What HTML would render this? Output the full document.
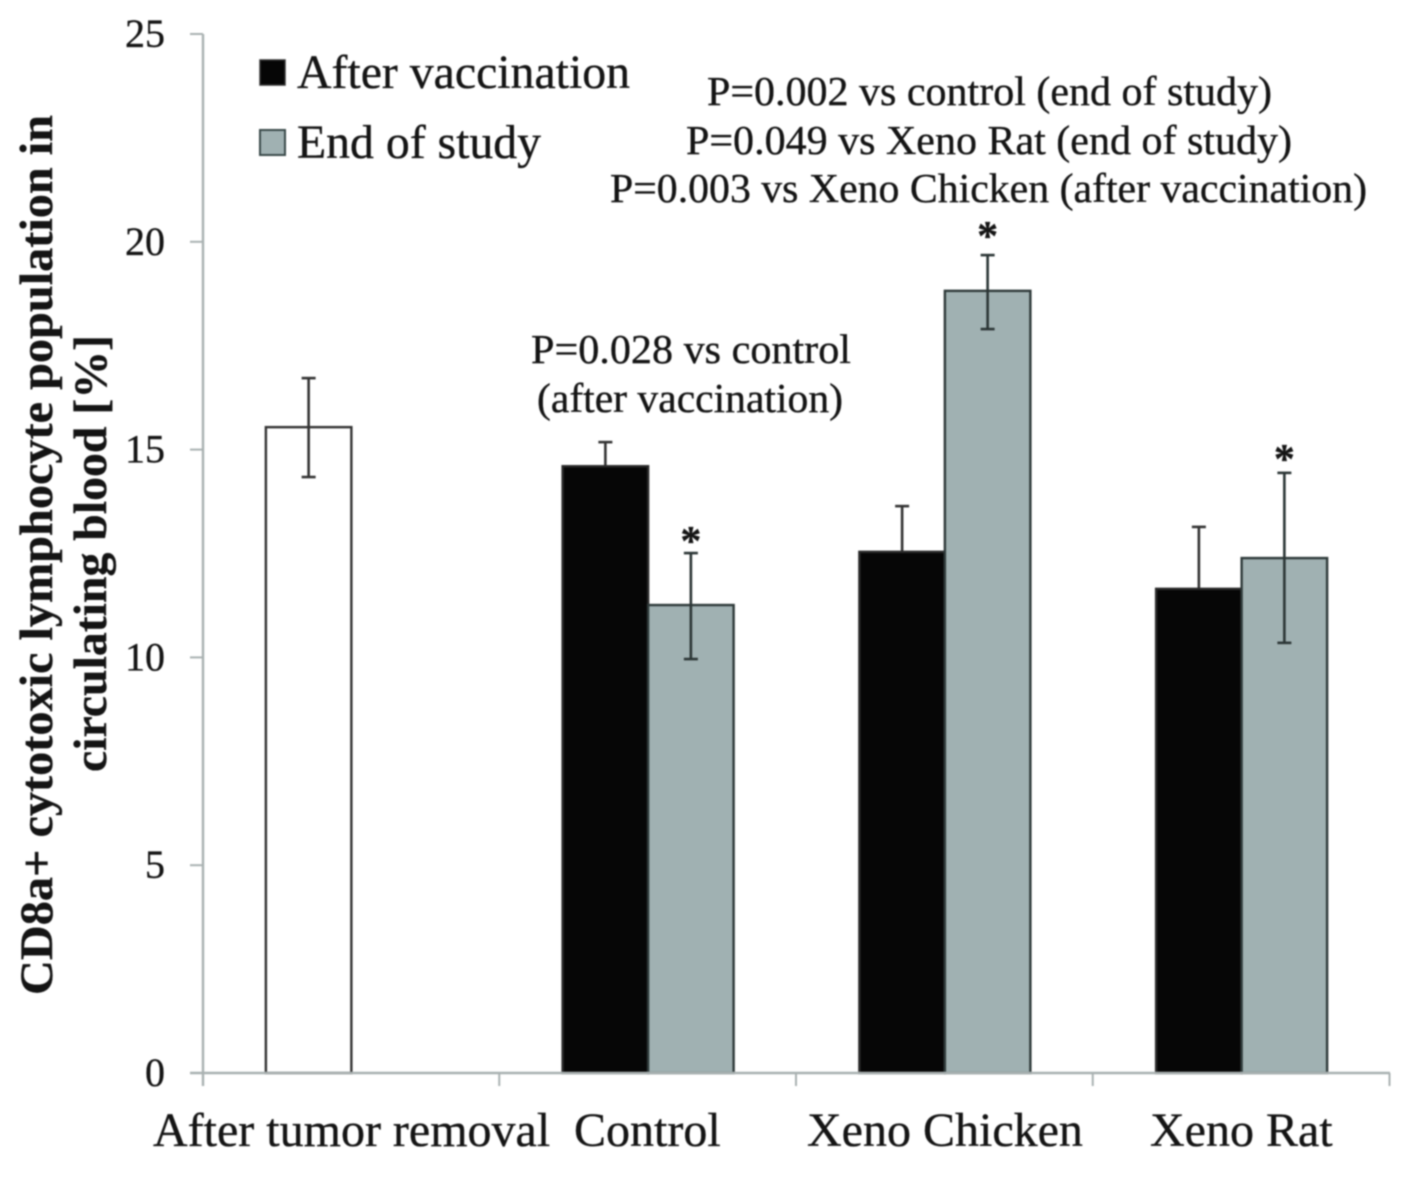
<!DOCTYPE html>
<html>
<head>
<meta charset="utf-8">
<title>CD8a+ cytotoxic lymphocyte chart</title>
<style>
html,body{margin:0;padding:0;background:#fff;width:1406px;height:1182px;overflow:hidden}
svg{display:block;filter:blur(0.7px)}
text{font-family:"Liberation Serif",serif;fill:#141414;stroke:#141414;stroke-width:0.35px}
</style>
</head>
<body>
<svg id="chart" xmlns="http://www.w3.org/2000/svg" width="1406" height="1182" viewBox="0 0 1406 1182">
<g id="marks"></g>
<g id="axes"></g>
<g font-weight="bold" font-size="47">
  <text transform="translate(52,995) rotate(-90)" textLength="880" lengthAdjust="spacingAndGlyphs">CD8a+ cytotoxic lymphocyte population in</text>
  <text transform="translate(106,772) rotate(-90)" textLength="437" lengthAdjust="spacingAndGlyphs">circulating blood [%]</text>
</g>
<g font-size="48">
  <rect x="260" y="60" width="25" height="25" fill="#060606" stroke="#333" stroke-width="1.5"/>
  <text x="297" y="88" textLength="333" lengthAdjust="spacingAndGlyphs">After vaccination</text>
  <rect x="260" y="130" width="25" height="25" fill="#a0b1b2" stroke="#3a4a4a" stroke-width="2"/>
  <text x="297" y="158" textLength="244" lengthAdjust="spacingAndGlyphs">End of study</text>
</g>
<g font-size="41">
  <text x="707" y="105" textLength="565" lengthAdjust="spacingAndGlyphs">P=0.002 vs control (end of study)</text>
  <text x="686" y="154" textLength="606" lengthAdjust="spacingAndGlyphs">P=0.049 vs Xeno Rat (end of study)</text>
  <text x="610" y="202" textLength="757" lengthAdjust="spacingAndGlyphs">P=0.003 vs Xeno Chicken (after vaccination)</text>
  <text x="531" y="363" textLength="320" lengthAdjust="spacingAndGlyphs">P=0.028 vs control</text>
  <text x="537" y="412" textLength="306" lengthAdjust="spacingAndGlyphs">(after vaccination)</text>
</g>
<script>
const categories = ["After tumor removal", "Control", "Xeno Chicken", "Xeno Rat"];
const tickValues = [0, 5, 10, 15, 20, 25];
const baselineValue = [15.54];
const baselineErrUp = [1.18];
const baselineErrDown = [1.2];
const afterVaccination = [null, 14.6, 12.54, 11.65];
const afterVaccinationErr = [null, 0.58, 1.1, 1.49];
const endOfStudy = [null, 11.26, 18.82, 12.39];
const endOfStudyErrUp = [null, 1.25, 0.86, 2.05];
const endOfStudyErrDown = [null, 1.3, 0.92, 2.04];
const significant = [null, true, true, true];

const svgNS = 'http://www.w3.org/2000/svg';
const marks = document.getElementById('marks');
const axes = document.getElementById('axes');
const plotLeft = 203, plotRight = 1390, plotBottom = 1073, plotTop = 34, yMax = 25;
const barWidth = 85.5;
const starLift = { 'control': -4, 'xeno-chicken': 3, 'xeno-rat': -2 };

function yScale(v) { return plotBottom - (v / yMax) * (plotBottom - plotTop); }
function xBand(i) { return plotLeft + i * (plotRight - plotLeft) / categories.length; }
function xCenter(i) { return xBand(i) + (plotRight - plotLeft) / categories.length / 2; }

function make(parent, tag, attrs) {
  const el = document.createElementNS(svgNS, tag);
  for (const k in attrs) el.setAttribute(k, attrs[k]);
  parent.appendChild(el);
  return el;
}
function drawBar(x, value, fill, stroke, name) {
  const el = make(marks, 'rect', { x: x, y: yScale(value), width: barWidth, height: plotBottom - yScale(value), fill: fill, stroke: stroke, 'stroke-width': 2.4 });
  
  
}
function drawError(cx, value, up, down, color, name) {
  const g = make(marks, 'g', { stroke: color, 'stroke-width': 2.6, fill: 'none' });
  
  
  const yTop = yScale(value + up), yBot = yScale(value - down);
  make(g, 'line', { x1: cx, x2: cx, y1: yTop, y2: yBot });
  make(g, 'line', { x1: cx - 7, x2: cx + 7, y1: yTop, y2: yTop });
  make(g, 'line', { x1: cx - 7, x2: cx + 7, y1: yBot, y2: yBot });
}
function drawStar(cx, value, up, key) {
  const t = make(marks, 'text', { x: cx, y: yScale(value + up) - 2 - (starLift[key] || 0), 'text-anchor': 'middle', 'font-size': 42, 'font-weight': 'bold' });
  
  
  t.textContent = '*';
}

// Baseline (white) bar
drawBar(xCenter(0) - barWidth, baselineValue[0], '#ffffff', '#333', 'bar-after-tumor-removal');
drawError(xCenter(0) - barWidth / 2, baselineValue[0], baselineErrUp[0], baselineErrDown[0], '#333', 'error-bar-after-tumor-removal');

categories.forEach(function (cat, i) {
  if (afterVaccination[i] === null) return;
  const c = xCenter(i);
  const key = cat.toLowerCase().replace(/ /g, '-');
  // The error whisker is drawn before its bar so the lower half is hidden by the black fill
  drawError(c - barWidth / 2, afterVaccination[i], afterVaccinationErr[i], afterVaccinationErr[i], '#333', 'error-bar-after-vaccination-' + key);
  drawBar(c - barWidth, afterVaccination[i], '#060606', '#2a2a2a', 'bar-after-vaccination-' + key);
  drawBar(c, endOfStudy[i], '#a0b1b2', '#2f3a3a', 'bar-end-of-study-' + key);
  drawError(c + barWidth / 2, endOfStudy[i], endOfStudyErrUp[i], endOfStudyErrDown[i], '#2c3636', 'error-bar-end-of-study-' + key);
  if (significant[i]) drawStar(c + barWidth / 2, endOfStudy[i], endOfStudyErrUp[i], key);
});

// Axes
const axisColor = '#a9b1b1';
const yAxisLine = make(axes, 'line', { x1: plotLeft, x2: plotLeft, y1: plotTop, y2: plotBottom + 13, stroke: axisColor, 'stroke-width': 2.4 });


const xAxisLine = make(axes, 'line', { x1: plotLeft - 13, x2: plotRight, y1: plotBottom, y2: plotBottom, stroke: axisColor, 'stroke-width': 2.4 });



tickValues.forEach(function (v) {
  const y = yScale(v);
  if (v !== 0) {
    const tick = make(axes, 'line', { x1: plotLeft - 13, x2: plotLeft, y1: y, y2: y, stroke: axisColor, 'stroke-width': 2 });
    
    
  }
  const label = make(axes, 'text', { x: 165, y: y + 13, 'text-anchor': 'end', 'font-size': 40 });
  
  
  label.textContent = v;
});

for (let i = 1; i <= categories.length; i++) {
  const x = xBand(i) - 0.5;
  const tick = make(axes, 'line', { x1: x, x2: x, y1: plotBottom, y2: plotBottom + 13, stroke: axisColor, 'stroke-width': 2 });
  
  
}

const catLabelFont = 48;
const catLabelLeft = [153, 574, 807, 1150];
categories.forEach(function (cat, i) {
  const label = make(axes, 'text', { x: catLabelLeft[i], y: 1146, 'font-size': catLabelFont });
  
  
  label.textContent = cat;
});
</script>
</svg>
</body>
</html>
